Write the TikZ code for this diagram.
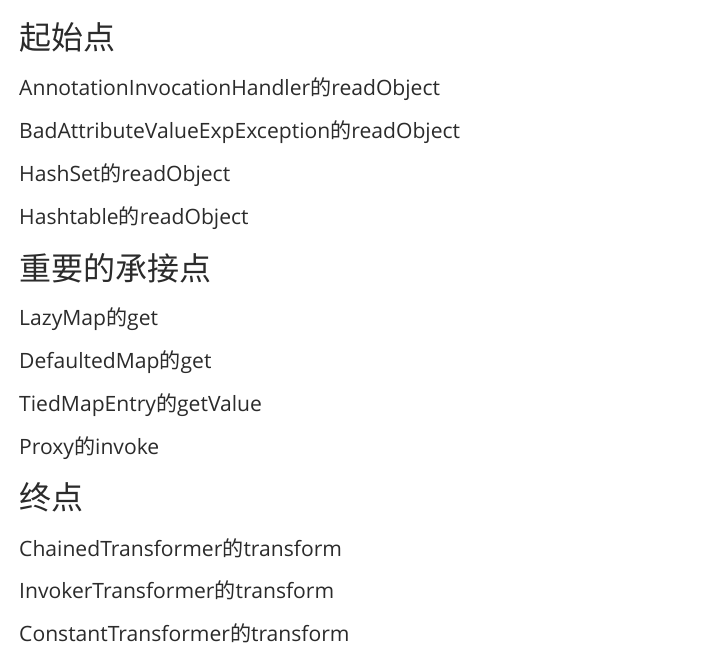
\documentclass[tikz,border=0pt]{standalone}
\usepackage{fontspec}
\setmainfont{Open Sans}
\newfontfamily\cjk{Noto Sans CJK SC}
\definecolor{txt}{HTML}{2B2B2B}
\tikzset{
  body/.style={anchor=base west, inner sep=0pt, text=txt, font=\fontsize{21.1}{25}\selectfont},
  head/.style={anchor=base west, inner sep=0pt, text=txt, font=\cjk\fontsize{32}{38}\selectfont},
}
\newcommand{\de}{{\cjk 的}}
\begin{document}
\begin{tikzpicture}[x=1pt,y=-1pt]
\useasboundingbox[fill=white] (0,0) rectangle (725,664);
\node[head] (h1) at (19,49) {起始点};
\node[body] (a1) at (19,95) {AnnotationInvocationHandler\de readObject};
\node[body] (a2) at (19,138) {BadAttributeValueExpException\de readObject};
\node[body] (a3) at (19,181) {HashSet\de readObject};
\node[body] (a4) at (19,224) {Hashtable\de readObject};
\node[head] (h2) at (19,280) {重要的承接点};
\node[body] (b1) at (19,325) {LazyMap\de get};
\node[body] (b2) at (19,368) {DefaultedMap\de get};
\node[body] (b3) at (19,411) {TiedMapEntry\de getValue};
\node[body] (b4) at (19,454) {Proxy\de invoke};
\node[head] (h3) at (19,509) {终点};
\node[body] (c1) at (19,556) {ChainedTransformer\de transform};
\node[body] (c2) at (19,598) {InvokerTransformer\de transform};
\node[body] (c3) at (19,641) {ConstantTransformer\de transform};
\end{tikzpicture}
\end{document}
